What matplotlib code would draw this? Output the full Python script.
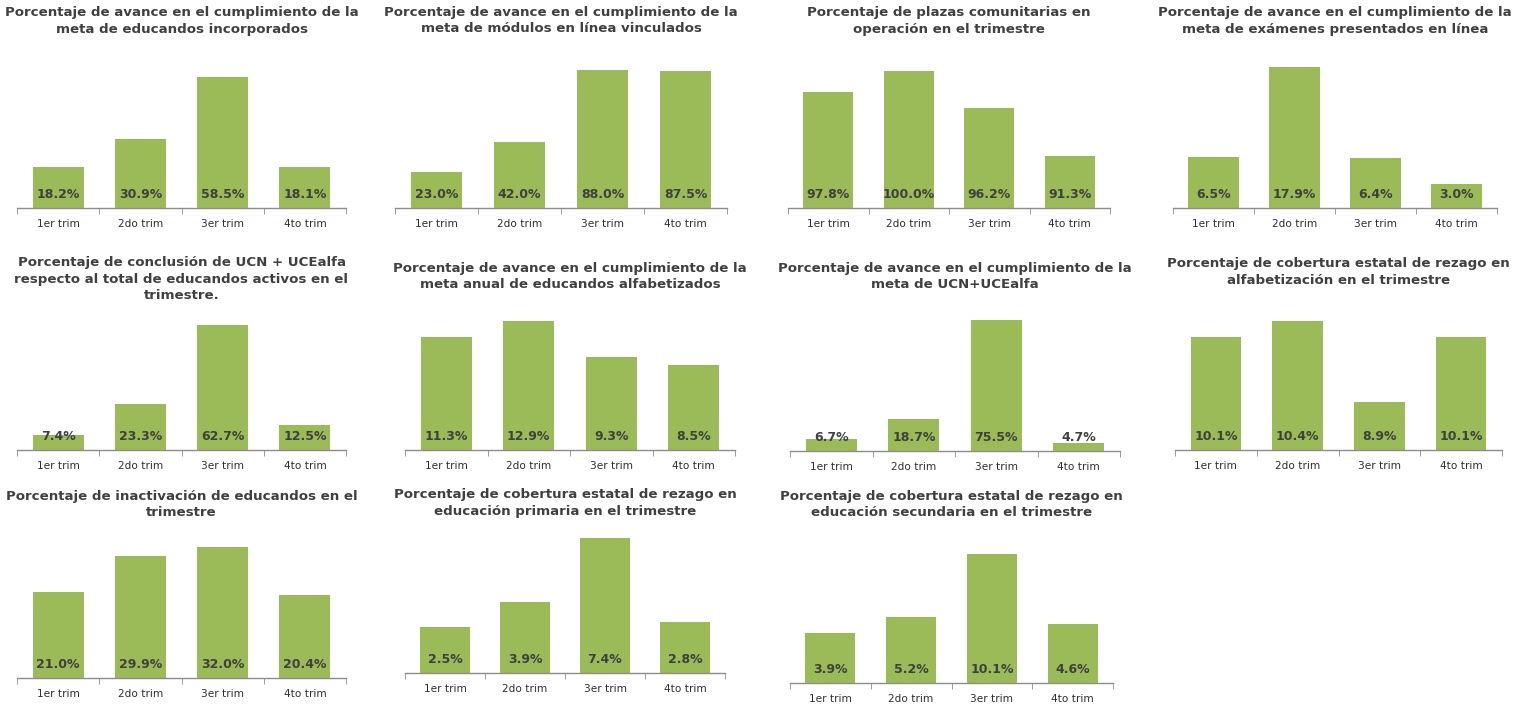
import matplotlib
matplotlib.use("Agg")
import matplotlib.pyplot as plt

plt.rcParams['font.family'] = ['DejaVu Sans']

trimestres = ['1er trim', '2do trim', '3er trim', '4to trim']

titulos = [
    'Porcentaje de avance en el cumplimiento de la\nmeta de educandos incorporados',
    'Porcentaje de avance en el cumplimiento de la\nmeta de módulos en línea vinculados',
    'Porcentaje de plazas comunitarias en\noperación en el trimestre',
    'Porcentaje de avance en el cumplimiento de la\nmeta de exámenes presentados en línea',
    'Porcentaje de conclusión de UCN + UCEalfa\nrespecto al total de educandos activos en el\ntrimestre.',
    'Porcentaje de avance en el cumplimiento de la\nmeta anual de educandos alfabetizados',
    'Porcentaje de avance en el cumplimiento de la\nmeta de UCN+UCEalfa',
    'Porcentaje de cobertura estatal de rezago en\nalfabetización en el trimestre',
    'Porcentaje de inactivación de educandos en el\ntrimestre',
    'Porcentaje de cobertura estatal de rezago en\neducación primaria en el trimestre',
    'Porcentaje de cobertura estatal de rezago en\neducación secundaria en el trimestre',
]

educandos_incorporados = [18.2, 30.9, 58.5, 18.1]
modulos_en_linea = [23.0, 42.0, 88.0, 87.5]
plazas_comunitarias = [97.8, 100.0, 96.2, 91.3]
examenes_en_linea = [6.5, 17.9, 6.4, 3.0]
conclusion_ucn = [7.4, 23.3, 62.7, 12.5]
alfabetizados = [11.3, 12.9, 9.3, 8.5]
meta_ucn = [6.7, 18.7, 75.5, 4.7]
rezago_alfabetizacion = [10.1, 10.4, 8.9, 10.1]
inactivacion = [21.0, 29.9, 32.0, 20.4]
rezago_primaria = [2.5, 3.9, 7.4, 2.8]
rezago_secundaria = [3.9, 5.2, 10.1, 4.6]

series = [educandos_incorporados, modulos_en_linea, plazas_comunitarias,
          examenes_en_linea, conclusion_ucn, alfabetizados, meta_ucn,
          rezago_alfabetizacion, inactivacion, rezago_primaria, rezago_secundaria]

# axis ranges (Excel auto scale)
rangos = [(0, 70), (0, 100), (86, 102), (0, 20),
          (0, 70), (0, 14), (0, 80), (8, 10.6),
          (0, 35), (0, 8), (0, 12)]

# layout in pixels: x0, x1, y baseline, y top, title top
cajas = [(17, 346, 208, 51, 6), (395, 727, 208, 51, 6), (788, 1110, 208, 51, 6), (1173, 1497, 208, 51, 6),
         (17, 346, 450, 311, 256), (405, 735, 450, 310, 262), (790, 1120, 451, 312, 262), (1175, 1502, 450, 310, 257),
         (17, 346, 678, 535, 490), (405, 725, 673, 527, 488), (790, 1113, 683, 530, 490)]

W, H = 1533, 706
fig = plt.figure(figsize=(W / 100, H / 100), dpi=100)

verde = '#9BBB59'
gris = '#404040'

for vals, titulo, (ymin, ymax), (x0, x1, yb, yt, ty) in zip(series, titulos, rangos, cajas):
    ax = fig.add_axes([x0 / W, 1 - yb / H, (x1 - x0) / W, (yb - yt) / H])
    x = range(len(vals))
    ax.bar(x, [v - ymin for v in vals], bottom=ymin, width=0.62, color=verde, zorder=2)
    for i, v in enumerate(vals):
        ax.annotate(f'{v:.1f}%', (i, ymin), xytext=(0, 9.5), textcoords='offset points',
                    ha='center', va='center', fontsize=9.0, fontweight='bold', color=gris, zorder=3)
    ax.set_xlim(-0.5, len(vals) - 0.5)
    ax.set_ylim(ymin, ymax)
    for s in ['top', 'right', 'left']:
        ax.spines[s].set_visible(False)
    ax.spines['bottom'].set_color('#8c8c8c')
    ax.spines['bottom'].set_linewidth(1.0)
    ax.set_yticks([])
    ax.set_xticks(list(x))
    ax.set_xticklabels(trimestres, fontsize=7.6, color='#303030')
    ax.set_xticks([i - 0.5 for i in range(len(vals) + 1)], minor=True)
    ax.tick_params(axis='x', which='major', length=0, pad=8)
    ax.tick_params(axis='x', which='minor', length=4, color='#8c8c8c')
    fig.text((x0 + x1) / 2 / W, 1 - ty / H, titulo, ha='center', va='top',
             fontsize=9.6, fontweight='bold', color=gris, linespacing=1.35)

fig.savefig('out.png', dpi=100)
